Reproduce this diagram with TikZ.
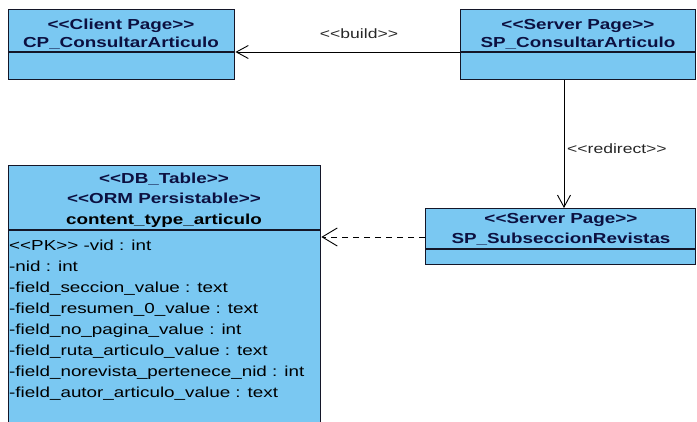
\documentclass[tikz,border=0pt]{standalone}
\usepackage{fontspec}
\setmainfont{Liberation Sans}[FakeStretch=1.3]
\usetikzlibrary{arrows.meta}

\definecolor{classfill}{RGB}{122,200,242}
\definecolor{classline}{RGB}{20,22,40}
\definecolor{headtext}{RGB}{12,16,64}

\newcommand{\stereo}[1]{<{}<#1>{}>}

\tikzset{
  classbox/.style={rectangle, draw=classline, fill=classfill, line width=1.4pt, anchor=north west, inner sep=0pt},
  divider/.style={draw=classline, line width=1.2pt},
  headline/.style={anchor=base, inner sep=0pt, text=headtext, font=\fontsize{14.5}{17}\selectfont\bfseries},
  attrline/.style={anchor=base west, inner sep=0pt, font=\fontsize{14.5}{17}\selectfont},
  linklabel/.style={inner sep=0pt, text=black!85, font=\fontsize{13.5}{16}\selectfont},
  openhead/.style={line width=1pt, -{Straight Barb[length=12pt,width=13pt,line width=0.9pt]}},
  bighead/.style={line width=1pt, -{Straight Barb[length=15pt,width=18pt,line width=0.9pt]}},
}

\begin{document}
\begin{tikzpicture}[x=1pt, y=-1pt]
            \useasboundingbox (0,0) rectangle (697,421);

            \coordinate (topdiv) at (0,52);
            \coordinate (redirx) at (564,0);
            \coordinate (dbarrow) at (0,237);

            \node[classbox, minimum width=226pt, minimum height=70pt] (cp) at (8,9) {};
            \draw[divider] (cp.west |- topdiv) -- (cp.east |- topdiv);
            \node[headline] (cptype) at (121,29) {\stereo{Client Page}};
            \node[headline] (cpname) at (121,47) {CP\_ConsultarArticulo};

            \node[classbox, minimum width=235pt, minimum height=70pt] (spc) at (460,9) {};
            \draw[divider] (spc.west |- topdiv) -- (spc.east |- topdiv);
            \node[headline] (spctype) at (578,29) {\stereo{Server Page}};
            \node[headline] (spcname) at (578,47) {SP\_ConsultarArticulo};

            \node[classbox, minimum width=270pt, minimum height=56pt] (sps) at (425,208) {};
            \draw[divider] (425,249) -- (sps.east |- 0,249);
            \node[headline] (spstype) at (561,223) {\stereo{Server Page}};
            \node[headline] (spsname) at (561,243) {SP\_SubseccionRevistas};

            \node[classbox, minimum width=312pt, minimum height=265pt] (db) at (8,165) {};
            \draw[divider] (8,230) -- (db.east |- 0,230);
            \node[headline] (dbtype) at (164,183) {\stereo{DB\_Table}};
            \node[headline] (dborm) at (164,203) {\stereo{ORM Persistable}};
            \node[headline, text=black] (dbname) at (164,224) {content\_type\_articulo};

            \foreach \attr [count=\i from 0] in {%
                \stereo{PK} -vid : int,
                -nid : int,
                -field\_seccion\_value : text,
                -field\_resumen\_0\_value : text,
                -field\_no\_pagina\_value : int,
                -field\_ruta\_articulo\_value : text,
                -field\_norevista\_pertenece\_nid : int,
                -field\_autor\_articulo\_value : text}
              \node[attrline] (attr\i) at (9,250+21.1*\i) {\attr};

            \draw[openhead] (spc.west |- topdiv) -- (cp.east |- topdiv);
            \node[linklabel, anchor=base] (buildlbl) at (359,38) {\stereo{build}};

            \draw[openhead] (spc.south -| redirx) -- (sps.north -| redirx);
            \node[linklabel, anchor=base west] (redirlbl) at (567,153) {\stereo{redirect}};

            \draw[bighead, dash pattern=on 6pt off 5pt] (sps.west |- dbarrow) -- (db.east |- dbarrow);

        \end{tikzpicture}
\end{document}
